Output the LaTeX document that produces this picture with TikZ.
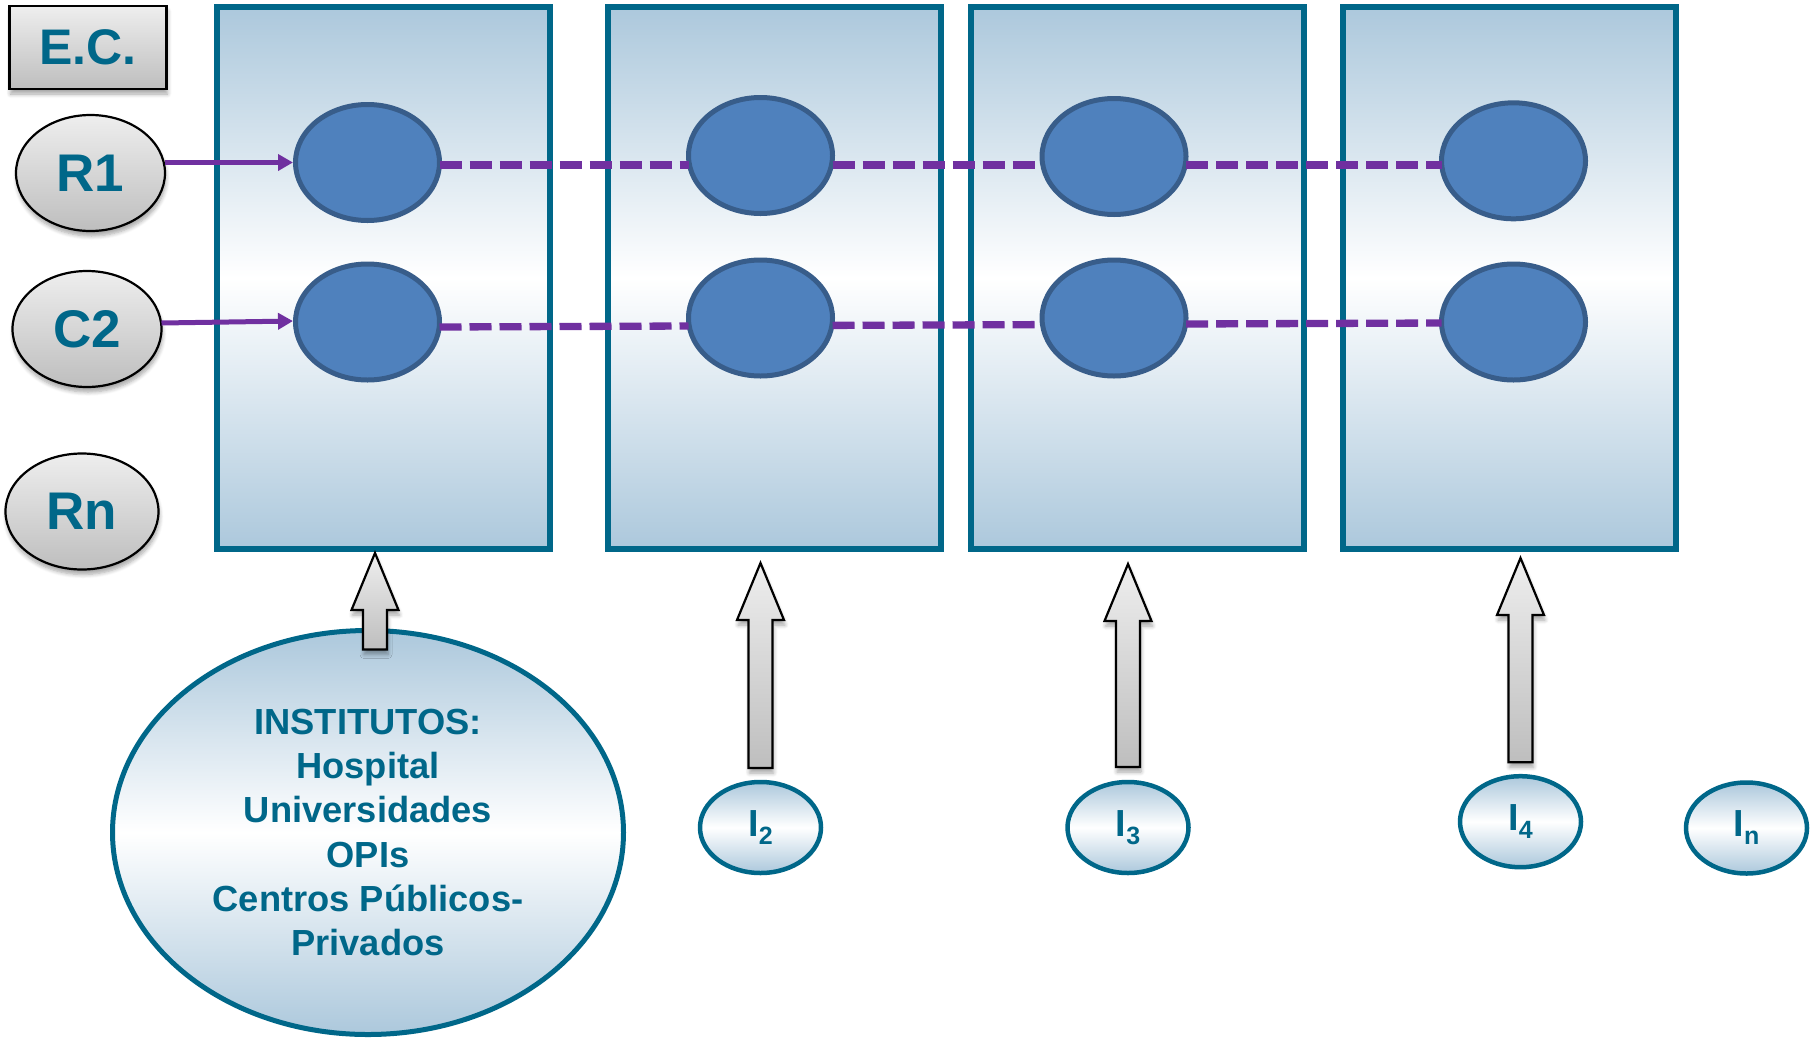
\documentclass[tikz,border=0pt]{standalone}
\usepackage{fontspec}
\setmainfont{Liberation Sans}
\usetikzlibrary{shapes.geometric,arrows.meta,shadows.blur,calc}

\definecolor{tealtx}{RGB}{0,103,137}
\definecolor{panelblue}{RGB}{172,200,220}
\definecolor{dotblue}{RGB}{79,129,189}
\definecolor{dotedge}{RGB}{56,93,138}
\definecolor{linkpurple}{RGB}{112,48,160}
\definecolor{greyhi}{RGB}{238,238,238}
\definecolor{greylo}{RGB}{190,190,190}

\tikzset{
  panel/.style={draw=tealtx, line width=5.3pt, inner sep=0pt, outer sep=0pt,
    minimum width=333pt, minimum height=542pt,
    top color=panelblue, bottom color=panelblue, middle color=white},
  dot/.style={ellipse, draw=dotedge, fill=dotblue, line width=5pt,
    inner sep=0pt, outer sep=0pt, minimum width=144pt, minimum height=116pt},
  softshadow/.style={blur shadow={shadow xshift=1pt, shadow yshift=-5pt,
    shadow blur radius=4pt, shadow blur steps=6, shadow opacity=35}},
  greynode/.style={draw=black, line width=2.2pt, inner sep=0pt, outer sep=0pt,
    top color=greyhi, bottom color=greylo, softshadow, text=tealtx},
  roundgrey/.style={greynode, ellipse, minimum width=149pt, minimum height=116pt,
    font=\bfseries\fontsize{53}{53}\selectfont},
  source/.style={ellipse, draw=tealtx, line width=4.5pt, inner sep=0pt, outer sep=0pt,
    top color=panelblue, bottom color=panelblue, middle color=white,
    minimum width=121pt, minimum height=91pt, text=tealtx,
    font=\bfseries\fontsize{37.7}{37.7}\selectfont},
  dashlink/.style={draw=linkpurple, line width=7.3pt, dash pattern=on 22pt off 8pt},
  feed/.style={draw=linkpurple, line width=5pt, shorten >=2.5pt,
    -{Triangle[length=15pt,width=16pt]}},
  blockarr/.style={draw=black, line width=2.2pt, line join=miter,
    top color=greyhi, bottom color=greylo, softshadow}
}

% upward block arrow: #1 = tip point, #2 = point on the tail line
\newcommand\feedarrow[2]{%
  \draw[blockarr] let \p1=#1, \p2=#2 in
    (\x1-12pt,\y2) -- (\x1-12pt,\y1-57pt) -- (\x1-23.5pt,\y1-57pt) -- (\x1,\y1)
    -- (\x1+23.5pt,\y1-57pt) -- (\x1+12pt,\y1-57pt) -- (\x1+12pt,\y2) -- cycle;}

\newcommand\subI[1]{I\raisebox{-8pt}{\fontsize{25}{25}\selectfont #1}}

\begin{document}
\begin{tikzpicture}[x=1pt,y=-1pt]
  \useasboundingbox (0,0) rectangle (1820,1039);

  % four stage panels
  \node[panel] (r1) at (383.5,278) {};
  \node[panel] (r2) at (774.5,278) {};
  \node[panel] (r3) at (1137.5,278) {};
  \node[panel] (r4) at (1509.5,278) {};

  % blue markers in each panel
  \node[dot] (a1) at (367.5,162.5) {};
  \node[dot] (b1) at (367.5,322) {};
  \node[dot] (a2) at (760.5,155.5) {};
  \node[dot] (b2) at (760.5,318) {};
  \node[dot] (a3) at (1114,156.5) {};
  \node[dot] (b3) at (1114,318) {};
  \node[dot] (a4) at (1513.5,160.8) {};
  \node[dot] (b4) at (1513.5,322) {};

  % dashed tracks between the markers
  \draw[dashlink] ($(a1.east)+(0,2.5)$) -- ($(a2.west)+(0,9.5)$);
  \draw[dashlink] ($(a2.east)+(0,9.5)$) -- ($(a3.west)+(0,8.5)$);
  \draw[dashlink] ($(a3.east)+(0,8.5)$) -- ($(a4.west)+(0,4.2)$);
  \draw[dashlink] ($(b1.east)+(0,5)$) -- ($(b2.west)+(0,8)$);
  \draw[dashlink] ($(b2.east)+(0,7.4)$) -- ($(b3.west)+(0,6.6)$);
  \draw[dashlink] ($(b3.east)+(0,6)$) -- ($(b4.west)+(0,1)$);

  % left column
  \node[greynode, rectangle, minimum width=157pt, minimum height=83pt,
        font=\bfseries\fontsize{50}{50}\selectfont] (ecbox) at (88,47.5) {E.C.};
  \node[roundgrey] (rone) at (90.5,173) {R1};
  \node[roundgrey] (ctwo) at (87,329) {C2};
  \node[roundgrey, minimum width=153pt] (rn) at (82,511.5) {Rn};

  \draw[feed] (rone.east |- a1.west) -- (a1.west);
  \draw[feed] ($(ctwo.east)+(0,-6)$) -- ($(b1.west)+(0,-1)$);

  % institutions
  \node[source, line width=5pt, minimum width=511pt, minimum height=404pt,
        align=center, font=\bfseries\fontsize{36.3}{44.2}\selectfont]
        (inst) at (368,832.5)
        {INSTITUTOS:\\Hospital\\Universidades\\OPIs\\Centros Públicos-\\Privados};
  \node[source] (i2) at (760.5,827.5) {\subI{2}};
  \node[source] (i3) at (1128,827.5) {\subI{3}};
  \node[source] (i4) at (1520.5,821.7) {\subI{4}};
  \node[source] (in) at (1746.5,828) {\subI{n}};

  % upward inputs into the panels
  \feedarrow{($(inst.north |- r1.south)+(7,4)$)}{($(inst.north)+(7,19)$)}
  \feedarrow{($(i2.north |- r2.south)+(0,14)$)}{($(i2.north)+(0,-14)$)}
  \feedarrow{($(i3.north |- r3.south)+(0,15)$)}{($(i3.north)+(0,-15)$)}
  \feedarrow{($(i4.north |- r4.south)+(0,9)$)}{($(i4.north)+(0,-14)$)}
\end{tikzpicture}
\end{document}
